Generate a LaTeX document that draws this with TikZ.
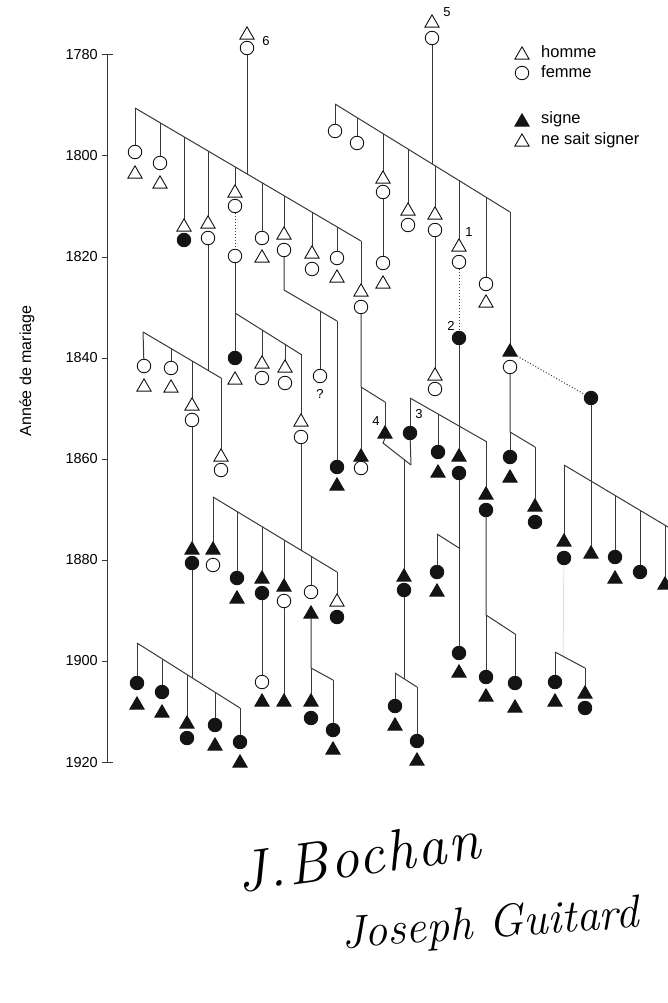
\documentclass[tikz,border=0pt]{standalone}
\usepackage{fontspec}
\newfontfamily\arialf{Liberation Sans}
\newfontfamily\sigfont{Latin Modern Roman}[Scale=1, LetterSpace=4]
\usetikzlibrary{shapes.geometric}
\definecolor{ink}{gray}{0.08}
\definecolor{wire}{gray}{0.22}
\begin{document}
\begin{tikzpicture}[x=1pt,y=-1pt,
  man/.style={draw=ink, line width=0.9pt, fill=white, regular polygon, regular polygon sides=3, minimum size=16.5pt, inner sep=0pt, outer sep=0pt, yshift=-2.05pt},
  manS/.style={man, fill=ink},
  wom/.style={draw=ink, line width=0.9pt, fill=white, circle, minimum size=13.5pt, inner sep=0pt, outer sep=0pt},
  womS/.style={wom, fill=ink},
  kin/.style={draw=wire, line width=1pt},
  kindot/.style={kin, dotted},
  faint/.style={draw=gray!45, line width=0.5pt},
  lab/.style={font=\arialf\fontsize{13}{13}\selectfont, inner sep=0pt},
  leg/.style={font=\arialf\fontsize{16.5}{16.5}\selectfont, inner sep=0pt, anchor=base west},
  tick/.style={font=\arialf\fontsize{14.5}{14.5}\selectfont, inner sep=0pt, anchor=east},
]
\useasboundingbox (0,0) rectangle (667,1003);

% ---------- axis ----------
\coordinate (ax0) at (107,55);
\coordinate (ax1) at (107,762);
\draw[kin] (113,55) -- (ax0) -- (ax1) -- (113,762);
\foreach \yr/\yy in {1780/55,1800/156,1820/257,1840/358,1860/459,1880/560,1900/661,1920/762}{
  \draw[kin] (102,\yy) -- (107,\yy);
  \node[tick] (t\yr) at (98,\yy) {\yr};
}
\node[font=\arialf\fontsize{16}{16}\selectfont, rotate=90] (ylab) at (27,371) {Année de mariage};

% ---------- legend ----------
\node[man]  (lg1) at (522,53) {};
\node[leg]  (lt1) at (541,58) {homme};
\node[wom]  (lg2) at (522,73) {};
\node[leg]  (lt2) at (541,78) {femme};
\node[manS] (lg3) at (522,120) {};
\node[leg]  (lt3) at (541,124) {signe};
\node[man]  (lg4) at (522,140) {};
\node[leg]  (lt4) at (541,145) {ne sait signer};

% ---------- persons ----------
% parent 6
\node[man] (p6t) at (247,33) {};
\node[wom] (p6c) at (247,48) {};
\node[lab] (n6) at (266,41) {6};
% family A
\node[wom] (a1c) at (135,152) {};  \node[man] (a1t) at (135,172) {};
\node[wom] (a2c) at (160,163) {};  \node[man] (a2t) at (160,182) {};
\node[man] (a3t) at (184,225) {};  \node[womS] (a3c) at (184,240) {};
\node[man] (a4t) at (208,222) {};  \node[wom] (a4c) at (208,238) {};
\node[man] (a5t) at (235,191) {};  \node[wom] (a5c) at (235,206) {};
\node[wom] (a5d) at (235,256) {};
\node[wom] (a6c) at (262,238) {};  \node[man] (a6t) at (262,256) {};
\node[man] (a7t) at (284,233) {};  \node[wom] (a7c) at (284,250) {};
\node[man] (a8t) at (312,252) {};  \node[wom] (a8c) at (312,269) {};
\node[wom] (a9c) at (337,258) {};  \node[man] (a9t) at (337,276) {};
\node[man] (a10t) at (361,290) {}; \node[wom] (a10c) at (361,307) {};
% family B
\node[wom] (b1c) at (144,366) {};  \node[man] (b1t) at (144,385) {};
\node[wom] (b2c) at (171,368) {};  \node[man] (b2t) at (171,386) {};
\node[man] (b3t) at (192,404) {};  \node[wom] (b3c) at (192,420) {};
\node[man] (b4t) at (221,455) {};  \node[wom] (b4c) at (221,470) {};
\node[manS] (r0t) at (192,548) {}; \node[womS] (r0c) at (192,563) {};
% family C
\node[womS] (c1c) at (235,358) {}; \node[man] (c1t) at (235,378) {};
\node[man] (c2t) at (262,362) {};  \node[wom] (c2c) at (262,378) {};
\node[man] (c3t) at (285,366) {};  \node[wom] (c3c) at (285,383) {};
\node[man] (c4t) at (301,420) {};  \node[wom] (c4c) at (301,437) {};
% family D
\node[wom] (d1c) at (320,376) {};
\node[lab] (nq) at (320,394) {?};
\node[womS] (d2c) at (337,467) {}; \node[manS] (d2t) at (337,484) {};
% family E
\node[manS] (e1t) at (361,455) {}; \node[wom] (e1c) at (361,468) {};
\node[manS] (e2t) at (385,432) {};
\node[lab] (n4) at (376,421) {4};
% family S
\node[manS] (s1t) at (213,548) {}; \node[wom] (s1c) at (213,565) {};
\node[womS] (s2c) at (237,578) {}; \node[manS] (s2t) at (237,597) {};
\node[manS] (s3t) at (262,577) {}; \node[womS] (s3c) at (262,593) {};
\node[wom] (s3d) at (262,682) {};  \node[manS] (s3e) at (262,700) {};
\node[manS] (s4t) at (284,585) {}; \node[wom] (s4c) at (284,601) {};
\node[manS] (s4d) at (284,700) {};
\node[wom] (s5c) at (311,592) {};  \node[manS] (s5t) at (311,612) {};
\node[man] (s6t) at (337,600) {};  \node[womS] (s6c) at (337,617) {};
% family Q
\node[manS] (q1t) at (311,700) {}; \node[womS] (q1c) at (311,718) {};
\node[womS] (q2c) at (333,730) {}; \node[manS] (q2t) at (333,748) {};
% family R
\node[womS] (r1c) at (137,683) {}; \node[manS] (r1t) at (137,703) {};
\node[womS] (r2c) at (162,692) {}; \node[manS] (r2t) at (162,711) {};
\node[manS] (r3t) at (187,722) {}; \node[womS] (r3c) at (187,738) {};
\node[womS] (r4c) at (215,725) {}; \node[manS] (r4t) at (215,744) {};
\node[womS] (r5c) at (240,742) {}; \node[manS] (r5t) at (240,761) {};
% parent 5 and family H
\node[man] (p5t) at (432,21) {};
\node[wom] (p5c) at (432,38) {};
\node[lab] (n5) at (447,12) {5};
\node[wom] (h1c) at (335,131) {};
\node[wom] (h2c) at (357,143) {};
\node[man] (h3t) at (383,177) {};  \node[wom] (h3c) at (383,192) {};
\node[wom] (h3d) at (383,263) {};  \node[man] (h3e) at (383,282) {};
\node[man] (h4t) at (408,209) {};  \node[wom] (h4c) at (408,225) {};
\node[man] (h5t) at (435,213) {};  \node[wom] (h5c) at (435,230) {};
\node[man] (h5d) at (435,374) {};  \node[wom] (h5e) at (435,389) {};
\node[man] (h6t) at (459,245) {};  \node[wom] (h6c) at (459,262) {};
\node[lab] (n1) at (469,232) {1};
\node[wom] (h7c) at (486,284) {};  \node[man] (h7t) at (486,301) {};
\node[manS] (h8t) at (510,350) {}; \node[wom] (h8c) at (510,367) {};
% person 2 and family G
\node[womS] (p2c) at (459,338) {};
\node[lab] (n2) at (451,326) {2};
\node[womS] (g1c) at (410,433) {};
\node[lab] (n3) at (419,414) {3};
\node[womS] (g2c) at (438,452) {}; \node[manS] (g2t) at (438,471) {};
\node[manS] (g3t) at (459,455) {}; \node[womS] (g3c) at (459,473) {};
\node[manS] (g4t) at (486,493) {}; \node[womS] (g4c) at (486,510) {};
% family F / N
\node[manS] (f1t) at (404,575) {}; \node[womS] (f1c) at (404,590) {};
\node[womS] (n1c) at (395,706) {}; \node[manS] (n1t) at (395,724) {};
\node[womS] (n2c) at (417,741) {}; \node[manS] (n2t) at (417,759) {};
% family M
\node[womS] (m1c) at (437,572) {}; \node[manS] (m1t) at (437,590) {};
\node[womS] (m2c) at (459,653) {}; \node[manS] (m2t) at (459,671) {};
% family L
\node[womS] (l1c) at (486,677) {}; \node[manS] (l1t) at (486,695) {};
\node[womS] (l2c) at (515,683) {}; \node[manS] (l2t) at (515,706) {};
% family I
\node[womS] (i1c) at (510,457) {}; \node[manS] (i1t) at (510,476) {};
\node[manS] (i2t) at (535,505) {}; \node[womS] (i2c) at (535,522) {};
% family J
\node[womS] (jp) at (591,398) {};
\node[manS] (j1t) at (564,540) {}; \node[womS] (j1c) at (564,558) {};
\node[manS] (j2t) at (591,552) {};
\node[womS] (j3c) at (615,557) {}; \node[manS] (j3t) at (615,577) {};
\node[womS] (j4c) at (640,572) {};
\node[manS] (j5t) at (665,583) {};
% family K
\node[womS] (k1c) at (555,682) {}; \node[manS] (k1t) at (555,700) {};
\node[manS] (k2t) at (585,692) {}; \node[womS] (k2c) at (585,708) {};

% ---------- line coordinates ----------
\coordinate (A1) at (135,108);   \coordinate (A2) at (160,122.7);
\coordinate (A3) at (184,136.8); \coordinate (A4) at (208,151);
\coordinate (A5) at (235,166.9); \coordinate (Ap) at (247,173.9);
\coordinate (A6) at (262,182.7); \coordinate (A7) at (284,195.7);
\coordinate (A8) at (312,212.2); \coordinate (A9) at (337,226.9);
\coordinate (A10) at (361,241);
\coordinate (B1) at (143,332);   \coordinate (B2) at (171,348.5);
\coordinate (B3) at (192,360.9); \coordinate (Bp) at (208,370.4);
\coordinate (B4) at (221,378);
\coordinate (C1) at (235,313);   \coordinate (C2) at (262,329.9);
\coordinate (C3) at (285,344.3); \coordinate (C4) at (301,354.4);
\coordinate (D0) at (284,290);   \coordinate (D1) at (320,311.1);
\coordinate (D2) at (337,321);
\coordinate (E1) at (361,387);   \coordinate (E2) at (385,402);
\coordinate (F1) at (383,443);   \coordinate (F3) at (404,458.9);
\coordinate (F2) at (411,465);
\coordinate (S1) at (213,497);   \coordinate (S2) at (237,511.5);
\coordinate (S3) at (262,526.6); \coordinate (S4) at (284,540);
\coordinate (Sp) at (301,550.3); \coordinate (S5) at (311,556.3);
\coordinate (S6) at (337,572);
\coordinate (Q1) at (311,668);   \coordinate (Q2) at (333,680);
\coordinate (R1) at (137,643);   \coordinate (R2) at (162,658.8);
\coordinate (R3) at (187,674.6); \coordinate (Rp) at (192,677.7);
\coordinate (R4) at (215,692.2); \coordinate (R5) at (240,708);
\coordinate (H1) at (335,104);   \coordinate (H2) at (357,117.6);
\coordinate (H3) at (383,133.6); \coordinate (H4) at (408,149);
\coordinate (Hp) at (432,163.9); \coordinate (H5) at (435,165.7);
\coordinate (H6) at (459,180.5); \coordinate (H7) at (486,197.2);
\coordinate (H8) at (510,212);
\coordinate (G1) at (410,398);   \coordinate (G2) at (438,414);
\coordinate (G4) at (486,441.4);
\coordinate (I1) at (510,432);   \coordinate (I2) at (535,447);
\coordinate (L1) at (486,615);   \coordinate (L2) at (515,634);
\coordinate (M1) at (437,534);   \coordinate (M2) at (459,548);
\coordinate (N1) at (395,673);   \coordinate (N3) at (404,678.7);
\coordinate (N2) at (417,687);
\coordinate (J1) at (564,465);   \coordinate (J3) at (615,495.8);
\coordinate (J4) at (640,510.8); \coordinate (J5) at (665,525.2);
\coordinate (J6) at (668,527);
\coordinate (K1) at (555,652);   \coordinate (Kp) at (563,656.3);
\coordinate (K2) at (585,668);

% ---------- connectors ----------
% A
\draw[kin] (p6c) -- (Ap);
\draw[kin] (A1) -- (A10);
\draw[kin] (A1) -- (a1c);  \draw[kin] (A2) -- (a2c);
\draw[kin] (A3) -- (a3t);  \draw[kin] (A4) -- (a4t);
\draw[kin] (A5) -- (a5t);  \draw[kin] (A6) -- (a6c);
\draw[kin] (A7) -- (a7t);  \draw[kin] (A8) -- (a8t);
\draw[kin] (A9) -- (a9c);  \draw[kin] (A10) -- (a10t);
% B
\draw[kin] (a4c) -- (Bp);
\draw[kin] (B1) -- (B4);
\draw[kin] (B1) -- (b1c);  \draw[kin] (B2) -- (b2c);
\draw[kin] (B3) -- (b3t);  \draw[kin] (B4) -- (b4t);
\draw[kin] (b3c) -- (r0t);
% C
\draw[kindot] (a5c) -- (a5d);
\draw[kin] (a5d) -- (C1);
\draw[kin] (C1) -- (C4);
\draw[kin] (C1) -- (c1c);  \draw[kin] (C2) -- (c2t);
\draw[kin] (C3) -- (c3t);  \draw[kin] (C4) -- (c4t);
% D
\draw[kin] (a7c) -- (D0) -- (D2);
\draw[kin] (D1) -- (d1c);  \draw[kin] (D2) -- (d2c);
% E
\draw[kin] (a10c) -- (E1) -- (E2);
\draw[kin] (E1) -- (e1t);  \draw[kin] (E2) -- (e2t);
% F
\draw[kin] (e2t.south) -- (F1) -- (F2);
\draw[kin] (g1c) -- (F2);
\draw[kin] (F3) -- (f1t);
% S
\draw[kin] (c4c) -- (Sp);
\draw[kin] (S1) -- (S6);
\draw[kin] (S1) -- (s1t);  \draw[kin] (S2) -- (s2c);
\draw[kin] (S3) -- (s3t);  \draw[kin] (S4) -- (s4t);
\draw[kin] (S5) -- (s5c);  \draw[kin] (S6) -- (s6t);
\draw[kin] (s3c) -- (s3d); \draw[kin] (s4c) -- (s4d);
% Q
\draw[kin] (s5t) -- (Q1) -- (Q2);
\draw[kin] (Q1) -- (q1t);  \draw[kin] (Q2) -- (q2c);
% R
\draw[kin] (r0c) -- (Rp);
\draw[kin] (R1) -- (R5);
\draw[kin] (R1) -- (r1c);  \draw[kin] (R2) -- (r2c);
\draw[kin] (R3) -- (r3t);  \draw[kin] (R4) -- (r4c);
\draw[kin] (R5) -- (r5c);
% H
\draw[kin] (p5c) -- (Hp);
\draw[kin] (H1) -- (H8);
\draw[kin] (H1) -- (h1c);  \draw[kin] (H2) -- (h2c);
\draw[kin] (H3) -- (h3t);  \draw[kin] (H4) -- (h4t);
\draw[kin] (H5) -- (h5t);  \draw[kin] (H6) -- (h6t);
\draw[kin] (H7) -- (h7c);  \draw[kin] (H8) -- (h8t);
\draw[kin] (h3c) -- (h3d); \draw[kin] (h5c) -- (h5d);
\draw[kindot] (h6c) -- (p2c);
\draw[kindot] (h8t) -- (jp);
% G
\draw[kin] (G1) -- (G4);
\draw[kin] (G1) -- (g1c);  \draw[kin] (G2) -- (g2c);
\draw[kin] (p2c) -- (g3t); \draw[kin] (G4) -- (g4t);
% L
\draw[kin] (g4c) -- (L1) -- (L2);
\draw[kin] (L1) -- (l1c);  \draw[kin] (L2) -- (l2c);
% M
\draw[kin] (g3c) -- (m2c);
\draw[kin] (M1) -- (M2);
\draw[kin] (M1) -- (m1c);
% N
\draw[kin] (f1c) -- (N3);
\draw[kin] (N1) -- (N2);
\draw[kin] (N1) -- (n1c);  \draw[kin] (N2) -- (n2c);
% I
\draw[kin] (h8c) -- (I1) -- (I2);
\draw[kin] (I1) -- (i1c);  \draw[kin] (I2) -- (i2t);
% J
\draw[kin] (jp) -- (j2t);
\draw[kin] (J1) -- (J6);
\draw[kin] (J1) -- (j1t);  \draw[kin] (J3) -- (j3c);
\draw[kin] (J4) -- (j4c);  \draw[kin] (J5) -- (j5t);
% K
\draw[faint] (j1c) -- (Kp);
\draw[kin] (K1) -- (K2);
\draw[kin] (K1) -- (k1c);  \draw[kin] (K2) -- (k2t);

% ---------- signatures ----------
\node[font=\sigfont\fontsize{58}{58}\selectfont\itshape, rotate=8, inner sep=0pt] (sig1) at (358,856) {J.Bochan};
\node[font=\fontsize{46}{46}\selectfont\itshape, rotate=4, inner sep=0pt] (sig2) at (490,926) {Joseph Guitard};
\end{tikzpicture}
\end{document}
